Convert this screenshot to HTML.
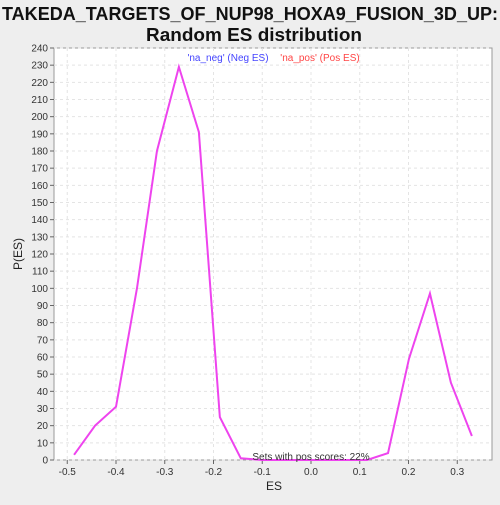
<!DOCTYPE html>
<html><head><meta charset="utf-8"><style>
body{margin:0;background:#eeeeee;font-family:"Liberation Sans",sans-serif;}
</style></head><body>
<svg id="c" width="500" height="500" xmlns="http://www.w3.org/2000/svg">
<rect width="500" height="500" fill="#eeeeee"/>
<text x="250" y="20" text-anchor="middle" font-size="18" font-weight="bold" fill="#111" textLength="496" lengthAdjust="spacingAndGlyphs">TAKEDA_TARGETS_OF_NUP98_HOXA9_FUSION_3D_UP:</text>
<text x="254" y="41" text-anchor="middle" font-size="18" font-weight="bold" fill="#111" textLength="216" lengthAdjust="spacingAndGlyphs">Random ES distribution</text>
<rect x="54" y="48" width="438" height="412" fill="#fff" stroke="#999"/>
<g id="grid"></g><g id="axes"></g><g id="series"></g>
<text x="228" y="61" text-anchor="middle" font-size="10" fill="#4444ff">'na_neg' (Neg ES)</text>
<text x="320" y="61" text-anchor="middle" font-size="10" fill="#ff4444">'na_pos' (Pos ES)</text>
<text x="311" y="460" text-anchor="middle" font-size="10" fill="#333">Sets with pos scores: 22%</text>
<text x="274" y="490" text-anchor="middle" font-size="12" fill="#222">ES</text>
<text x="22" y="254" text-anchor="middle" font-size="12" fill="#222" transform="rotate(-90 22 254)">P(ES)</text>
</svg>
<script>
const xs=[-0.486,-0.443,-0.4,-0.357,-0.316,-0.271,-0.23,-0.187,-0.144,-0.1,0.0,0.115,0.158,0.201,0.244,0.287,0.330];
const ys=[3,20,31,100,180,229,191,25,1,0,0,0,4,59,97,45,14];
const xTicks=[-0.5,-0.4,-0.3,-0.2,-0.1,0.0,0.1,0.2,0.3];
const xTickLabels=["-0.5","-0.4","-0.3","-0.2","-0.1","0.0","0.1","0.2","0.3"];
const yTicks=[];for(let v=0;v<=240;v+=10)yTicks.push(v);
const X=v=>311+v*487.5, Y=v=>460-v*412/240;
const NS="http://www.w3.org/2000/svg";
const g=document.getElementById('grid'),a=document.getElementById('axes'),s=document.getElementById('series');
function mk(p,t,at){const e=document.createElementNS(NS,t);for(const k in at)e.setAttribute(k,at[k]);p.appendChild(e);return e;}
xTicks.forEach((v,i)=>{const x=X(v);
 const l=mk(g,'line',{x1:x,x2:x,y1:48,y2:460,stroke:'#e4e4e4','stroke-dasharray':'3,3'});
 
 const t=mk(a,'line',{x1:x,x2:x,y1:460,y2:464,stroke:'#666'});
 
 const tx=mk(a,'text',{x:x,y:475,'text-anchor':'middle','font-size':10,fill:'#333'});tx.textContent=xTickLabels[i];
 });
yTicks.forEach(v=>{const y=Y(v);
 const l=mk(g,'line',{x1:54,x2:492,y1:y,y2:y,stroke:'#e4e4e4','stroke-dasharray':'3,3'});
 
 const t=mk(a,'line',{x1:50,x2:54,y1:y,y2:y,stroke:'#666'});
 
 const tx=mk(a,'text',{x:48,y:y+3.5,'text-anchor':'end','font-size':10,fill:'#333'});tx.textContent=v;
 });
const p=mk(s,'polyline',{points:xs.map((v,i)=>X(v)+','+Y(ys[i])).join(' '),fill:'none',stroke:'#ee44ee','stroke-width':2});

</script>
</body></html>
